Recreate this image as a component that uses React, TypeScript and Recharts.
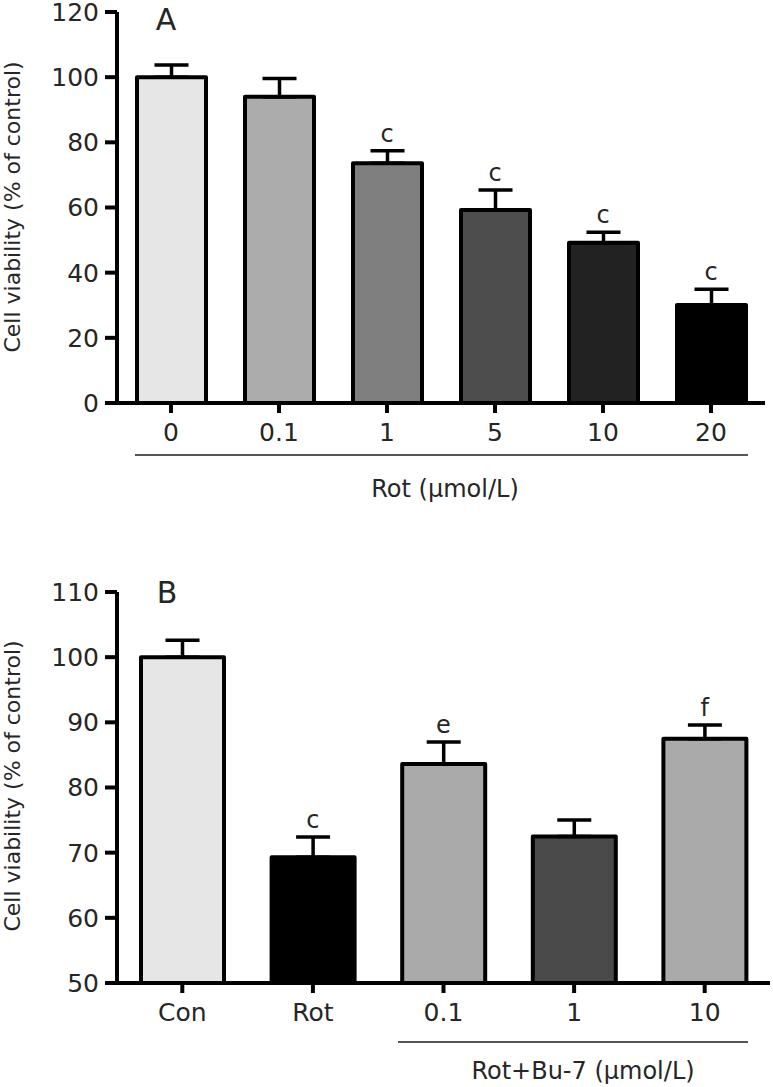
import { ComposedChart, Bar, Cell, ErrorBar, Line, LabelList, XAxis, YAxis } from 'recharts';

// Panel A: Rot dose response
const doseA = ['0', '0.1', '1', '5', '10', '20'];
const meanA = [100, 94, 73.6, 59.2, 49.2, 30.1];
const semA = [3.7, 5.6, 3.8, 6.2, 3.2, 4.8];
const sigA = ['', '', 'c', 'c', 'c', 'c'];
const fillA = ['#e6e6e6', '#acacac', '#7f7f7f', '#4d4d4d', '#222222', '#000000'];
const ticksA = [0, 20, 40, 60, 80, 100, 120];

// Panel B: Rot + Bu-7
const groupB = ['Con', 'Rot', '0.1', '1', '10'];
const meanB = [100, 69.3, 83.6, 72.5, 87.5];
const semB = [2.6, 3.1, 3.4, 2.5, 2.1];
const sigB = ['', 'c', 'e', '', 'f'];
const fillB = ['#e6e6e6', '#000000', '#aaaaaa', '#4a4a4a', '#aaaaaa'];
const ticksB = [50, 60, 70, 80, 90, 100, 110];

const FONT = '"DejaVu Sans", Arial, sans-serif';
const INK = '#262626';

const build = (names: string[], means: number[], sems: number[], sigs: string[]) =>
  names.map((name, i) => ({
    name,
    value: means[i],
    err: [0, sems[i]], // upper error only
    top: means[i] + sems[i],
    sig: sigs[i],
  }));

interface PanelProps {
  data: ReturnType<typeof build>;
  fills: string[];
  ticks: number[];
  height: number;
  margin: { top: number; right: number; left: number; bottom: number };
  barSize: number;
}

function Panel({ data, fills, ticks, height, margin, barSize }: PanelProps) {
  const axisStyle = { stroke: '#000', strokeWidth: 4 };
  return (
    <ComposedChart width={773} height={height} data={data} margin={margin} style={{ overflow: 'visible' }}>
      <XAxis
        dataKey="name"
        height={40}
        tickSize={10}
        tickMargin={10}
        axisLine={axisStyle}
        tickLine={axisStyle}
        tick={{ fill: INK, fontSize: 25, fontFamily: FONT }}
        interval={0}
      />
      <YAxis
        width={117}
        type="number"
        domain={[ticks[0], ticks[ticks.length - 1]]}
        ticks={ticks}
        interval={0}
        tickSize={12}
        tickMargin={6}
        axisLine={axisStyle}
        tickLine={axisStyle}
        tick={{ fill: INK, fontSize: 25, fontFamily: FONT }}
      />
      <Bar
        dataKey="value"
        barSize={barSize}
        stroke="#000"
        strokeWidth={4}
        strokeLinejoin="round"
        isAnimationActive={false}
      >
        {data.map((d, i) => (
          <Cell key={d.name} fill={fills[i]} />
        ))}
        <ErrorBar dataKey="err" direction="y" width={17} stroke="#000" strokeWidth={3.5} />
      </Bar>
      <Line dataKey="top" stroke="none" dot={false} activeDot={false} legendType="none" isAnimationActive={false}>
        <LabelList dataKey="sig" position="top" offset={9} fill={INK} fontSize={24} fontFamily={FONT} />
      </Line>
    </ComposedChart>
  );
}

export default function App() {
  const dataA = build(doseA, meanA, semA, sigA);
  const dataB = build(groupB, meanB, semB, sigB);
  const yLabel = 'Cell viability (% of control)';

  return (
    <div style={{ position: 'absolute', left: 0, top: 0, width: 773, height: 1087, background: '#fff' }}>
      <Panel
        data={dataA}
        fills={fillA}
        ticks={ticksA}
        height={540}
        margin={{ top: 12, right: 8, left: 0, bottom: 97 }}
        barSize={69}
      />
      <Panel
        data={dataB}
        fills={fillB}
        ticks={ticksB}
        height={547}
        margin={{ top: 52, right: 3, left: 0, bottom: 64 }}
        barSize={83}
      />
      <svg
        width={773}
        height={1087}
        style={{ position: 'absolute', left: 0, top: 0, pointerEvents: 'none' }}
        fontFamily={FONT}
        fill={INK}
      >
        <text x={166} y={30} fontSize={30} textAnchor="middle">A</text>
        <text x={167} y={603} fontSize={30} textAnchor="middle">B</text>

        <text transform="translate(20,207) rotate(-90)" fontSize={22} textAnchor="middle">{yLabel}</text>
        <text transform="translate(20,786) rotate(-90)" fontSize={22} textAnchor="middle">{yLabel}</text>

        <line x1={135} x2={748} y1={455} y2={455} stroke="#555" strokeWidth={2} />
        <text x={445} y={497} fontSize={24} textAnchor="middle">Rot (μmol/L)</text>

        <line x1={398} x2={748} y1={1042} y2={1042} stroke="#555" strokeWidth={2} />
        <text x={583} y={1079} fontSize={24} textAnchor="middle">Rot+Bu-7 (μmol/L)</text>
      </svg>
    </div>
  );
}
